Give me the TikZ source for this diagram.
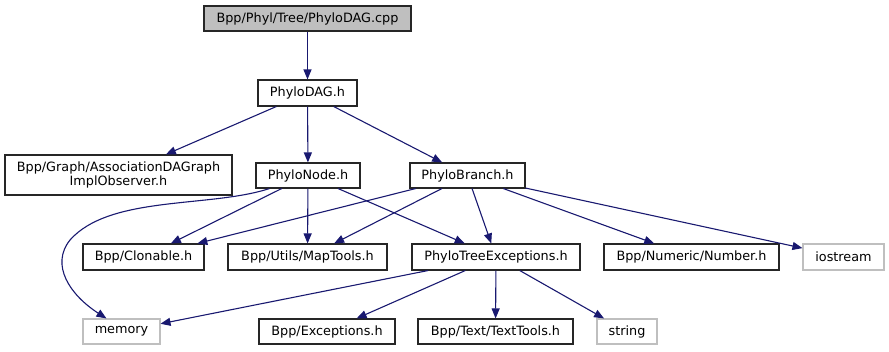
\documentclass[tikz,border=0pt]{standalone}
\usepackage{fontspec}
\setmainfont{DejaVu Sans}
\usetikzlibrary{arrows.meta}
\definecolor{edgeblue}{HTML}{191970}
\definecolor{lightgr}{HTML}{BFBFBF}
\tikzset{
  box/.style={draw=black!85, line width=1.1pt, inner sep=0pt, minimum height=25pt, align=center, font=\fontsize{12.8}{14.5}\selectfont},
  sysbox/.style={box, draw=lightgr},
  rootbox/.style={box, fill=lightgr},
  dep/.style={draw=edgeblue, line width=1.1pt, -{Triangle[length=10pt,width=8pt]}}
}
\begin{document}
\begin{tikzpicture}[x=1pt,y=-1pt]
\useasboundingbox (0,0) rectangle (889,351);
\node[rootbox, minimum width=207pt] (root) at (307.5,18.5) {Bpp/Phyl/Tree/PhyloDAG.cpp};
\node[box, minimum width=99pt, minimum height=26pt] (dag) at (307.5,93) {PhyloDAG.h};
\node[box, minimum width=227pt, minimum height=40pt] (assoc) at (118.5,175) {Bpp/Graph/AssociationDAGraph\\ImplObserver.h};
\node[box, minimum width=104pt] (pn) at (308,175.5) {PhyloNode.h};
\node[box, minimum width=115pt] (pb) at (467.5,175.5) {PhyloBranch.h};
\node[box, minimum width=121pt, minimum height=26pt] (clon) at (143.5,257) {Bpp/Clonable.h};
\node[box, minimum width=159pt, minimum height=26pt] (map) at (307.5,257) {Bpp/Utils/MapTools.h};
\node[box, minimum width=168pt, minimum height=26pt] (pte) at (496,257) {PhyloTreeExceptions.h};
\node[box, minimum width=175pt, minimum height=26pt] (num) at (691.5,257) {Bpp/Numeric/Number.h};
\node[sysbox, minimum width=81pt, minimum height=26pt] (ios) at (843.5,257) {iostream};
\node[sysbox, minimum width=77pt] (mem) at (121.5,331.5) {memory};
\node[box, minimum width=136pt] (exc) at (327,331.5) {Bpp/Exceptions.h};
\node[box, minimum width=155pt] (tt) at (495.5,331.5) {Bpp/Text/TextTools.h};
\node[sysbox, minimum width=60pt] (str) at (627,331.5) {string};

\draw[dep] (root) -- (dag);
\draw[dep] (dag) -- (assoc);
\draw[dep] (dag) -- (pn);
\draw[dep] (dag) -- (pb);
\draw[dep] ([xshift=14pt]pn.south west) .. controls (210,208) and (110,195) .. (70,240)
  .. controls (50,265) and (70,295) .. ([xshift=24pt]mem.north west);
\draw[dep] (pn) -- (clon);
\draw[dep] (pn) -- (map);
\draw[dep] (pn) -- (pte);
\draw[dep] (pb) -- (clon);
\draw[dep] (pb) -- (map);
\draw[dep] (pb) -- (pte);
\draw[dep] (pb) -- (num);
\draw[dep] (pb) -- (ios);
\draw[dep] (pte) -- (mem);
\draw[dep] (pte) -- (exc);
\draw[dep] (pte) -- (tt);
\draw[dep] (pte) -- (str);
\end{tikzpicture}
\end{document}
